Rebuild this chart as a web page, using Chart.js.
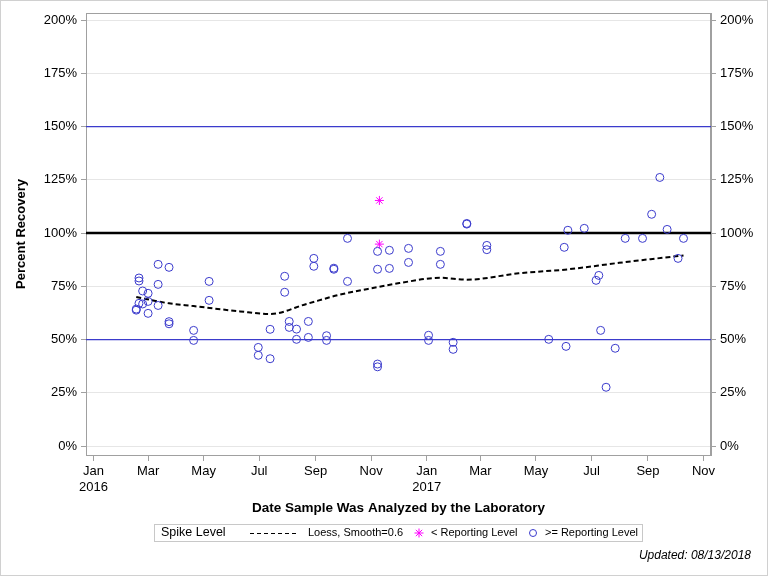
<!DOCTYPE html>
<html>
<head>
<meta charset="utf-8">
<script src="https://cdn.jsdelivr.net/npm/chart.js@4.4.0/dist/chart.umd.min.js"></script>
<style>
  html, body { margin: 0; padding: 0; background: #fff; }
  #wrap { width: 768px; height: 576px; }
</style>
</head>
<body>
<div id="wrap"><canvas id="myChart" width="768" height="576"></canvas></div>
<script>
// >= reporting level samples (open circles)
const aboveDates = [
  '2016-02-17', '2016-02-17',
  '2016-02-20', '2016-02-20', '2016-02-20',
  '2016-02-24', '2016-02-24',
  '2016-03-01', '2016-03-01', '2016-03-01',
  '2016-03-12', '2016-03-12', '2016-03-12',
  '2016-03-24', '2016-03-24', '2016-03-24',
  '2016-04-20', '2016-04-20',
  '2016-05-07', '2016-05-07',
  '2016-06-30', '2016-06-30',
  '2016-07-13', '2016-07-13',
  '2016-07-29', '2016-07-29',
  '2016-08-03', '2016-08-03',
  '2016-08-11', '2016-08-11',
  '2016-08-24', '2016-08-24',
  '2016-08-30', '2016-08-30',
  '2016-09-13', '2016-09-13',
  '2016-09-21', '2016-09-21',
  '2016-10-06', '2016-10-06',
  '2016-11-08', '2016-11-08', '2016-11-08', '2016-11-08',
  '2016-11-21', '2016-11-21',
  '2016-12-12', '2016-12-12',
  '2017-01-03', '2017-01-03',
  '2017-01-16', '2017-01-16',
  '2017-01-30', '2017-01-30',
  '2017-02-14', '2017-02-14',
  '2017-03-08', '2017-03-08',
  '2017-05-15', '2017-06-01', '2017-06-03', '2017-06-05', '2017-06-23',
  '2017-07-06', '2017-07-09', '2017-07-11', '2017-07-17', '2017-07-27',
  '2017-08-07', '2017-08-26', '2017-09-05', '2017-09-14', '2017-09-22',
  '2017-10-04', '2017-10-10'
];
const aboveValues = [
  64.3, 63.8,
  78.9, 77.5, 67.0,
  72.8, 66.7,
  71.7, 67.9, 62.3,
  85.3, 75.9, 66.0,
  58.4, 57.4, 83.9,
  54.3, 49.6,
  77.3, 68.4,
  46.3, 42.6,
  54.8, 41.0,
  79.7, 72.2,
  58.5, 55.7,
  54.9, 50.1,
  58.5, 51.0,
  88.1, 84.4,
  51.8, 49.6,
  83.5, 83.0,
  97.5, 77.3,
  91.4, 83.0, 38.5, 37.2,
  91.9, 83.4,
  92.8, 86.2,
  52.0, 49.6,
  91.4, 85.3,
  48.7, 45.4,
  104.5, 104.2,
  94.2, 92.2,
  50.1, 93.3, 46.8, 101.3, 102.2,
  77.8, 80.1, 54.3, 27.6, 45.9,
  97.5, 97.5, 108.8, 126.1, 101.7,
  88.1, 97.5
];

// < reporting level samples (asterisks)
const belowDates = ['2016-11-10', '2016-11-10'];
const belowValues = [115.3, 94.8];

// loess fit, smooth = 0.6
const loessDates = [
  '2016-02-17', '2016-03-24', '2016-04-20', '2016-06-10', '2016-07-13',
  '2016-08-22', '2016-09-27', '2016-11-08', '2016-12-02', '2017-01-16',
  '2017-02-14', '2017-04-12', '2017-06-06', '2017-07-31', '2017-10-10'
];
const loessValues = [
  70.0, 67.0, 65.7, 63.2, 62.0,
  66.7, 71.0, 74.6, 76.5, 79.0,
  78.1, 81.1, 83.0, 86.0, 89.5
];

const refLevels = [50, 100, 150];
const yTicks = [0, 25, 50, 75, 100, 125, 150, 175, 200];
const xTickDates = [
  '2016-01-01', '2016-03-01', '2016-05-01', '2016-07-01', '2016-09-01', '2016-11-01',
  '2017-01-01', '2017-03-01', '2017-05-01', '2017-07-01', '2017-09-01', '2017-11-01'
];
const monthNames = ['Jan', 'Feb', 'Mar', 'Apr', 'May', 'Jun', 'Jul', 'Aug', 'Sep', 'Oct', 'Nov', 'Dec'];

const DAY = 86400000;
const origin = Date.parse('2016-01-01');
function dayNum(s) {
  return (Date.parse(s) - origin) / DAY;
}

const X_MIN = -8.2, X_MAX = 678.2;
const FONT = '"Liberation Sans", Arial, sans-serif';
const BLUE = '#3b3bcc';

function toPoints(dates, values) {
  return dates.map((d, i) => ({ x: dayNum(d), y: values[i] }));
}

const refStyle = {
  50: { color: BLUE, width: 1.2 },
  100: { color: '#000', width: 2.5 },
  150: { color: BLUE, width: 1.2 }
};

const refSets = refLevels.map(lvl => ({
  type: 'line',
  data: [{ x: X_MIN, y: lvl }, { x: X_MAX, y: lvl }],
  borderColor: refStyle[lvl].color,
  borderWidth: refStyle[lvl].width,
  pointRadius: 0,
  showLine: true,
  order: 10
}));

const extras = {
  id: 'extras',
  beforeDatasetsDraw(chart) {
    const { ctx, chartArea: a } = chart;
    ctx.save();
    ctx.strokeStyle = '#a0a0a0';
    ctx.lineWidth = 1;
    ctx.strokeRect(a.left + 0.5, a.top + 0.5, a.right - a.left - 1, a.bottom - a.top);
    ctx.restore();
  },
  afterDraw(chart) {
    const ctx = chart.ctx;
    const a = chart.chartArea;
    ctx.save();
    ctx.fillStyle = '#000';

    // y title
    ctx.font = 'bold 13px ' + FONT;
    ctx.textAlign = 'center';
    ctx.textBaseline = 'middle';
    ctx.save();
    ctx.translate(21, (a.top + a.bottom) / 2);
    ctx.rotate(-Math.PI / 2);
    ctx.fillText('Percent Recovery', 0, 0);
    ctx.restore();

    // x title
    ctx.font = 'bold 13.5px ' + FONT;
    ctx.fillText('Date Sample Was Analyzed by the Laboratory', (a.left + a.right) / 2, 508);

    // legend box
    ctx.strokeStyle = '#c8c8c8';
    ctx.lineWidth = 1;
    ctx.strokeRect(154.5, 524.5, 488, 17);
    const ly = 533;
    ctx.textAlign = 'left';
    ctx.font = '12.5px ' + FONT;
    ctx.fillText('Spike Level', 161, ly);
    ctx.font = '11px ' + FONT;
    ctx.strokeStyle = '#000';
    ctx.setLineDash([4, 3]);
    ctx.beginPath();
    ctx.moveTo(250, ly + 0.5);
    ctx.lineTo(297, ly + 0.5);
    ctx.stroke();
    ctx.setLineDash([]);
    ctx.fillText('Loess, Smooth=0.6', 308, ly);

    // asterisk
    ctx.strokeStyle = '#ff00ff';
    ctx.beginPath();
    const ax = 419, r = 4.5;
    for (let k = 0; k < 4; k++) {
      const t = k * Math.PI / 4;
      ctx.moveTo(ax - r * Math.cos(t), ly - r * Math.sin(t));
      ctx.lineTo(ax + r * Math.cos(t), ly + r * Math.sin(t));
    }
    ctx.stroke();
    ctx.fillText('< Reporting Level', 431, ly);

    ctx.strokeStyle = BLUE;
    ctx.beginPath();
    ctx.arc(533, ly, 3.5, 0, Math.PI * 2);
    ctx.stroke();
    ctx.fillText('>= Reporting Level', 545, ly);

    // update note
    ctx.font = 'italic 12px ' + FONT;
    ctx.textAlign = 'right';
    ctx.fillText('Updated: 08/13/2018', 751, 556);

    // outer border
    ctx.strokeStyle = '#d0d0d0';
    ctx.strokeRect(0.5, 0.5, 767, 575);
    ctx.restore();
  }
};

const ctx = document.getElementById('myChart');

new Chart(ctx, {
  type: 'scatter',
  data: {
    datasets: [
      ...refSets,
      {
        type: 'line',
        data: toPoints(loessDates, loessValues),
        borderColor: '#000',
        borderWidth: 2,
        borderDash: [5, 3],
        pointRadius: 0,
        showLine: true,
        cubicInterpolationMode: 'monotone',
        order: 5
      },
      {
        data: toPoints(belowDates, belowValues),
        pointStyle: 'star',
        pointRadius: 4.5,
        borderColor: '#ff00ff',
        backgroundColor: '#ff00ff',
        pointBorderWidth: 1,
        order: 2
      },
      {
        data: toPoints(aboveDates, aboveValues),
        pointStyle: 'circle',
        pointRadius: 4,
        borderColor: BLUE,
        backgroundColor: 'rgba(0,0,0,0)',
        pointBorderWidth: 1,
        order: 1
      }
    ]
  },
  options: {
    responsive: false,
    animation: false,
    devicePixelRatio: 1,
    layout: { padding: { top: 13, left: 0, right: 0, bottom: 0 } },
    plugins: {
      legend: { display: false },
      tooltip: { enabled: false }
    },
    scales: {
      x: {
        type: 'linear',
        position: 'bottom',
        min: X_MIN,
        max: X_MAX,
        afterBuildTicks: s => { s.ticks = xTickDates.map(d => ({ value: dayNum(d) })); },
        afterFit: s => { s.height = 121; },
        grid: { drawOnChartArea: false, tickLength: 6, color: '#a0a0a0' },
        border: { color: '#a0a0a0' },
        ticks: {
          autoSkip: false,
          maxRotation: 0,
          padding: 3,
          color: '#000',
          font: { family: FONT, size: 13 },
          callback: (v) => {
            const d = new Date(origin + Math.round(v) * DAY);
            const m = monthNames[d.getUTCMonth()];
            return d.getUTCMonth() === 0 ? [m, String(d.getUTCFullYear())] : m;
          }
        }
      },
      y: {
        type: 'linear',
        position: 'left',
        min: -4.2,
        max: 203.3,
        afterBuildTicks: s => { s.ticks = yTicks.map(v => ({ value: v })); },
        afterFit: s => { s.width = 86; },
        grid: { color: '#e6e6e6', tickColor: '#a0a0a0', tickLength: 5 },
        border: { color: '#a0a0a0' },
        ticks: {
          padding: 4,
          color: '#000',
          font: { family: FONT, size: 13 },
          callback: v => v + '%'
        }
      },
      y2: {
        type: 'linear',
        position: 'right',
        min: -4.2,
        max: 203.3,
        afterBuildTicks: s => { s.ticks = yTicks.map(v => ({ value: v })); },
        afterFit: s => { s.width = 57; },
        grid: { drawOnChartArea: false, color: '#a0a0a0', tickLength: 5 },
        border: { color: '#a0a0a0' },
        ticks: {
          padding: 4,
          color: '#000',
          font: { family: FONT, size: 13 },
          callback: v => v + '%'
        }
      }
    }
  },
  plugins: [extras]
});
</script>
</body>
</html>
